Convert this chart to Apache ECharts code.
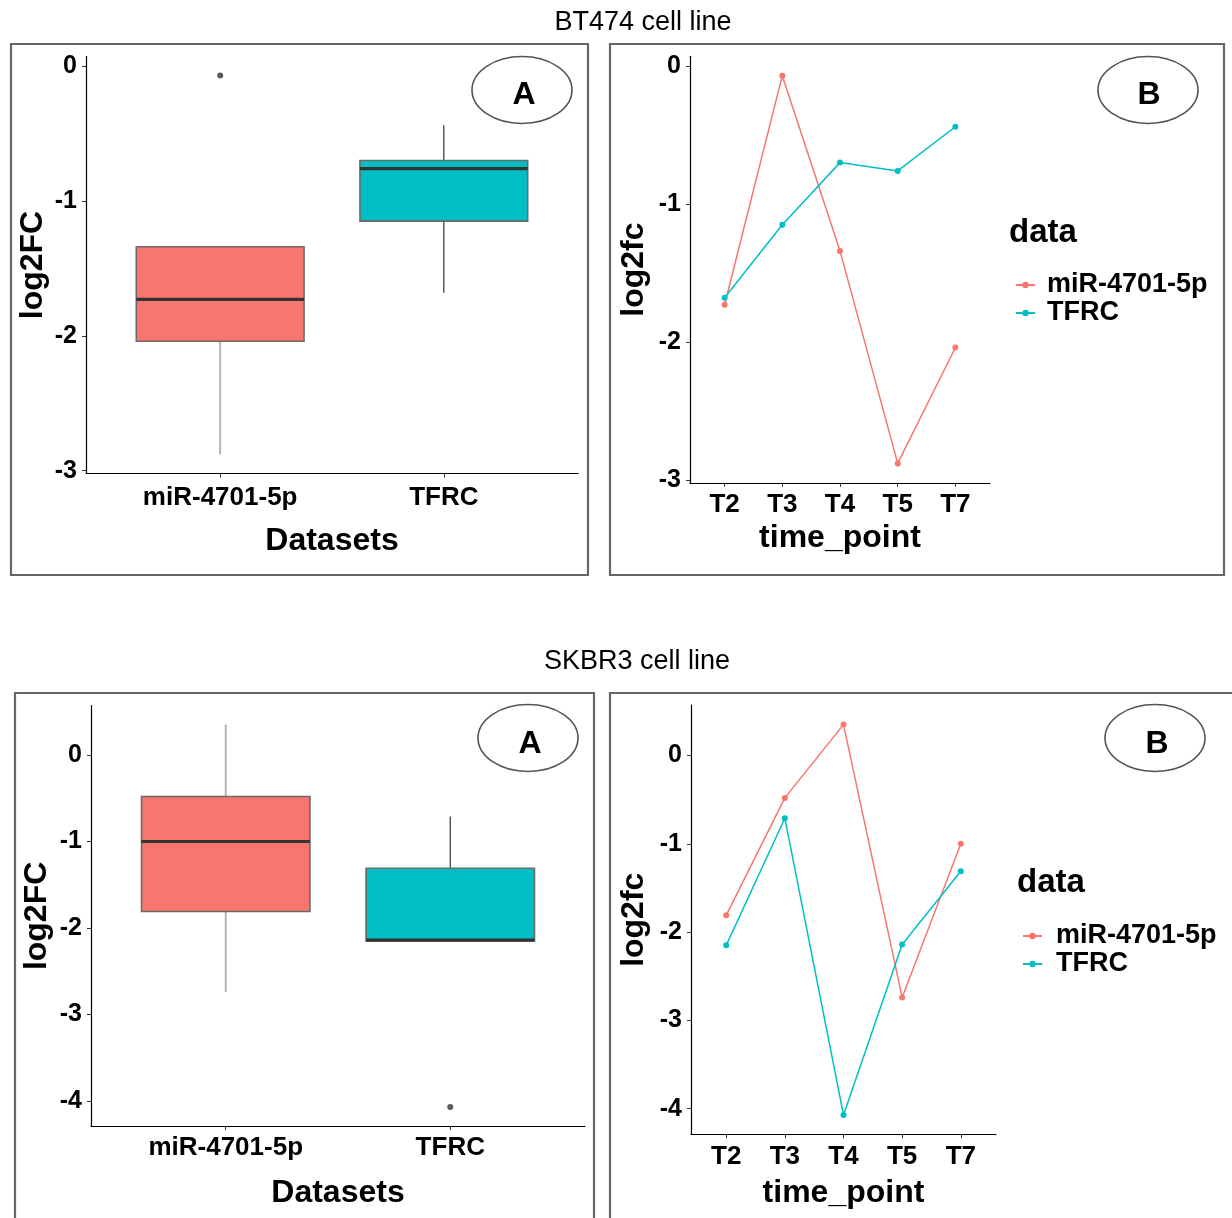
<!DOCTYPE html>
<html>
<head>
<meta charset="utf-8">
<script src="https://cdn.jsdelivr.net/npm/echarts@6/dist/echarts.min.js"></script>
<style>
html,body{margin:0;padding:0;background:#fff;}
#chart{width:1232px;height:1218px;}
</style>
</head>
<body>
<div id="chart"></div>
<script>
// ---------- data ----------
const timePoints = ['T2', 'T3', 'T4', 'T5', 'T7'];
const datasets = ['miR-4701-5p', 'TFRC'];
const bt474Mir = [-1.73, -0.07, -1.34, -2.88, -2.04];
const bt474Tfrc = [-1.68, -1.15, -0.70, -0.76, -0.44];
const skbr3Mir = [-1.81, -0.48, 0.35, -2.74, -1.00];
const skbr3Tfrc = [-2.15, -0.71, -4.07, -2.14, -1.31];
const bt474Ticks = [-3, -2, -1, 0];
const skbr3Ticks = [-4, -3, -2, -1, 0];
const panelTitles = ['BT474 cell line', 'SKBR3 cell line'];

// ---------- helpers ----------
const FONT = "'Liberation Sans', Arial, Helvetica, sans-serif";
const RED = '#F8766D', CYAN = '#00BFC4';

function quantile(sorted, p) {
  const h = (sorted.length - 1) * p;
  const lo = Math.floor(h);
  const hi = Math.min(lo + 1, sorted.length - 1);
  return sorted[lo] + (h - lo) * (sorted[hi] - sorted[lo]);
}
function boxStats(values, x) {
  const s = values.slice().sort((a, b) => a - b);
  const q1 = quantile(s, 0.25), med = quantile(s, 0.5), q3 = quantile(s, 0.75);
  const iqr = q3 - q1;
  const lf = q1 - 1.5 * iqr, uf = q3 + 1.5 * iqr;
  const inside = s.filter(v => v >= lf && v <= uf);
  const out = s.filter(v => v < lf || v > uf).map(v => [x, v]);
  return { box: [x, inside[0], q1, med, q3, inside[inside.length - 1]], out };
}
function expandRange(arrs) {
  const all = [].concat(...arrs);
  const mn = Math.min(...all), mx = Math.max(...all);
  const pad = (mx - mn) * 0.05;
  return [mn - pad, mx + pad];
}

const whiskerStyle = [{ stroke: '#b5b5b5', lineWidth: 2 }, { stroke: '#333', lineWidth: 1.2 }];
const boxFill = [RED, CYAN];

function renderBox(params, api) {
  const x = api.value(0);
  const pLow = api.coord([x, api.value(1)]);
  const pQ1 = api.coord([x, api.value(2)]);
  const pMed = api.coord([x, api.value(3)]);
  const pQ3 = api.coord([x, api.value(4)]);
  const pHigh = api.coord([x, api.value(5)]);
  const w = api.size([0.75, 0])[0];
  const i = params.dataIndex;
  const ws = whiskerStyle[i];
  return {
    type: 'group',
    children: [
      { type: 'line', shape: { x1: pQ3[0], y1: pQ3[1], x2: pHigh[0], y2: pHigh[1] }, style: { stroke: ws.stroke, lineWidth: ws.lineWidth } },
      { type: 'line', shape: { x1: pQ1[0], y1: pQ1[1], x2: pLow[0], y2: pLow[1] }, style: { stroke: ws.stroke, lineWidth: ws.lineWidth } },
      { type: 'rect', shape: { x: pQ3[0] - w / 2, y: pQ3[1], width: w, height: pQ1[1] - pQ3[1] }, style: { fill: boxFill[i], stroke: '#6a6a6a', lineWidth: 1.6 } },
      { type: 'line', shape: { x1: pMed[0] - w / 2, y1: pMed[1], x2: pMed[0] + w / 2, y2: pMed[1] }, style: { stroke: '#333', lineWidth: 3.2 } }
    ]
  };
}

function boxSeriesData(mir, tfrc) {
  const a = boxStats(mir, 1), b = boxStats(tfrc, 2);
  return { boxes: [a.box, b.box], outliers: a.out.concat(b.out) };
}
const btBox = boxSeriesData(bt474Mir, bt474Tfrc);
const skBox = boxSeriesData(skbr3Mir, skbr3Tfrc);
const btRange = expandRange([bt474Mir, bt474Tfrc]);
const skRange = expandRange([skbr3Mir, skbr3Tfrc]);

const tickLabel = { fontFamily: FONT, fontWeight: 'bold', color: '#000' };
const axisLine = { show: true, onZero: false, lineStyle: { color: '#000', width: 1.2 } };
const axisTick = (vals) => ({ show: true, length: 4, lineStyle: { color: '#333', width: 1 }, customValues: vals });

function xCatAxis(gridIndex, names, name, labelMargin, nameGap) {
  const vals = names.map((_, i) => i + 1);
  return {
    type: 'value', gridIndex, min: 0.4, max: names.length + 0.6,
    splitLine: { show: false }, axisLine,
    axisTick: axisTick(vals),
    axisLabel: Object.assign({ fontSize: 26, margin: labelMargin, customValues: vals,
      formatter: v => names[Math.round(v) - 1] }, tickLabel),
    name, nameLocation: 'middle', nameGap,
    nameTextStyle: { fontFamily: FONT, fontWeight: 'bold', fontSize: 32, color: '#000', verticalAlign: 'top' }
  };
}
function yValAxis(gridIndex, range, ticks, name, nameGap) {
  return {
    type: 'value', gridIndex, min: range[0], max: range[1],
    splitLine: { show: false }, axisLine,
    axisTick: axisTick(ticks),
    axisLabel: Object.assign({ fontSize: 25, margin: 9, customValues: ticks }, tickLabel),
    name, nameLocation: 'middle', nameRotate: 90, nameGap,
    nameTextStyle: { fontFamily: FONT, fontWeight: 'bold', fontSize: 32, color: '#000' }
  };
}
function lineSeries(name, vals, color, axisIndex) {
  return {
    type: 'line', name, xAxisIndex: axisIndex, yAxisIndex: axisIndex,
    data: vals.map((v, i) => [i + 1, v]),
    symbol: 'circle', symbolSize: 6, showSymbol: true,
    itemStyle: { color }, lineStyle: { color, width: 1.5 }, animation: false, silent: true
  };
}
function boxSeries(name, d, axisIndex) {
  return [
    { type: 'custom', name, xAxisIndex: axisIndex, yAxisIndex: axisIndex, renderItem: renderBox,
      encode: { x: 0, y: [1, 2, 3, 4, 5] }, data: d.boxes, animation: false, silent: true },
    { type: 'scatter', name: name + ' outliers', xAxisIndex: axisIndex, yAxisIndex: axisIndex,
      data: d.outliers, symbol: 'circle', symbolSize: 6, itemStyle: { color: '#333' }, animation: false, silent: true }
  ];
}

const gridBase = { containLabel: false, outerBoundsMode: 'none' };
const grids = [
  Object.assign({ left: 86, top: 56.5, width: 492, height: 417 }, gridBase),
  Object.assign({ left: 690, top: 56.3, width: 300, height: 426.5 }, gridBase),
  Object.assign({ left: 91, top: 705.6, width: 494, height: 420.6 }, gridBase),
  Object.assign({ left: 691, top: 705.1, width: 305, height: 429.3 }, gridBase)
];

function legendAt(left, top, textPad) {
  return {
    data: datasets, orient: 'vertical', left, top, itemWidth: 19, itemHeight: 8, itemGap: 0,
    selectedMode: false,
    textStyle: { fontFamily: FONT, fontWeight: 'bold', fontSize: 27, color: '#000', lineHeight: 28, padding: [0, 0, 0, textPad] }
  };
}

function ellipseWithLetter(cx, cy, letter, lx, ly) {
  return [
    { type: 'ellipse', shape: { cx, cy, rx: 50, ry: 33.5 }, style: { fill: 'none', stroke: '#555', lineWidth: 1.6 }, silent: true },
    { type: 'text', x: lx, y: ly, style: { text: letter, font: 'bold 32px ' + FONT, fill: '#000', align: 'center', verticalAlign: 'middle' }, silent: true }
  ];
}
function panelRect(x, y, w, h) {
  return { type: 'rect', shape: { x, y, width: w, height: h }, style: { fill: 'none', stroke: '#666', lineWidth: 2.2 }, silent: true };
}
function plainText(text, x, y, font, align) {
  return { type: 'text', x, y, style: { text, font, fill: '#000', align: align || 'center', verticalAlign: 'middle' }, silent: true };
}

const graphics = [
  panelRect(11, 44, 577, 531),
  panelRect(610, 44, 614, 531),
  panelRect(15, 693, 579, 560),
  panelRect(610, 693, 640, 560),
  plainText(panelTitles[0], 643, 22.5, '27px ' + FONT),
  plainText(panelTitles[1], 637, 662, '27px ' + FONT),
  plainText('data', 1009, 232.5, 'bold 33px ' + FONT, 'left'),
  plainText('data', 1017, 882.5, 'bold 33px ' + FONT, 'left')
].concat(
  ellipseWithLetter(522, 90, 'A', 524, 95),
  ellipseWithLetter(1148, 90, 'B', 1149, 95),
  ellipseWithLetter(528, 738, 'A', 530, 744),
  ellipseWithLetter(1155, 738, 'B', 1157, 744)
);

const option = {
  backgroundColor: '#fff',
  animation: false,
  grid: grids,
  xAxis: [
    xCatAxis(0, datasets, 'Datasets', 11, 52),
    xCatAxis(1, timePoints, 'time_point', 9, 39),
    xCatAxis(2, datasets, 'Datasets', 9, 51),
    xCatAxis(3, timePoints, 'time_point', 9, 43)
  ],
  yAxis: [
    yValAxis(0, btRange, bt474Ticks, 'log2FC', 37),
    yValAxis(1, btRange, bt474Ticks, 'log2fc', 40),
    yValAxis(2, skRange, skbr3Ticks, 'log2FC', 38),
    yValAxis(3, skRange, skbr3Ticks, 'log2fc', 41)
  ],
  legend: [
    legendAt(1010, 266, 7),
    legendAt(1017, 917, 9)
  ],
  series: [].concat(
    boxSeries('BT474 boxplot', btBox, 0),
    [lineSeries(datasets[0], bt474Mir, RED, 1), lineSeries(datasets[1], bt474Tfrc, CYAN, 1)],
    boxSeries('SKBR3 boxplot', skBox, 2),
    [lineSeries(datasets[0], skbr3Mir, RED, 3), lineSeries(datasets[1], skbr3Tfrc, CYAN, 3)]
  ),
  graphic: graphics
};

const chart = echarts.init(document.getElementById('chart'), null, { renderer: 'canvas', width: 1232, height: 1218 });
chart.setOption(option);
</script>
</body>
</html>
